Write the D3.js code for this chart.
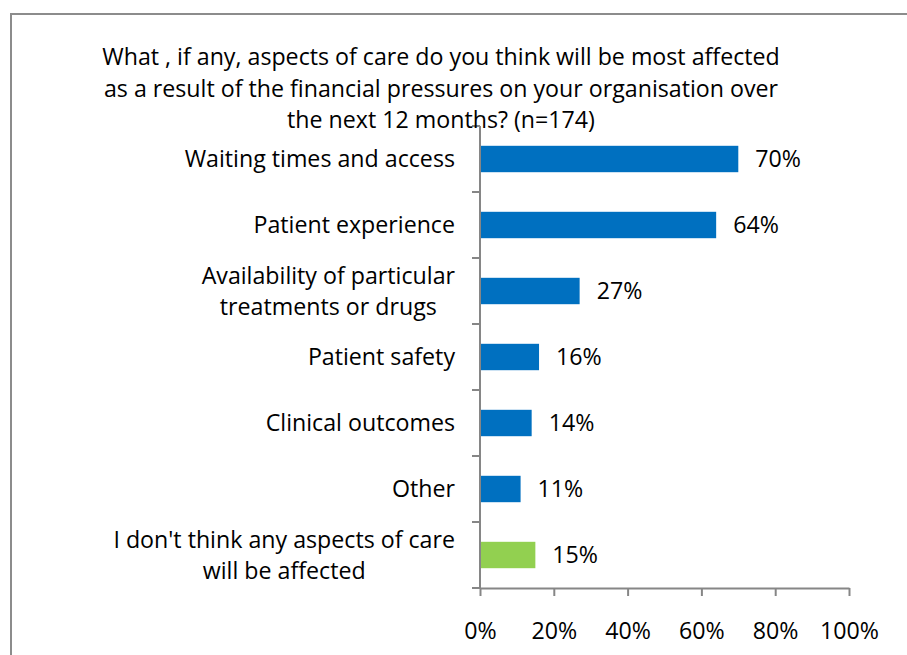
<!DOCTYPE html>
<html>
<head>
<meta charset="utf-8">
<script src="https://cdn.jsdelivr.net/npm/d3@7"></script>
<style>
  html, body { margin: 0; padding: 0; background: #fff; }
  svg { display: block; }
  text { font-family: "Open Sans", "Noto Sans", sans-serif; fill: #000; }
</style>
</head>
<body>
<script>
// Survey answers, in display order (top to bottom)
const categories = [
  "Waiting times and access",
  "Patient experience",
  "Availability of particular\ntreatments or drugs",
  "Patient safety",
  "Clinical outcomes",
  "Other",
  "I don't think any aspects of care\nwill be affected"
];
const values = [70, 64, 27, 16, 14, 11, 15];
const barColors = ["#0070C0", "#0070C0", "#0070C0", "#0070C0", "#0070C0", "#0070C0", "#92D050"];
const xTicks = [0, 20, 40, 60, 80, 100];
const titleLines = [
  "What , if any, aspects of care do you think will be most affected",
  "as a result of the financial pressures on your organisation over",
  "the next 12 months? (n=174)"
];

const W = 907, H = 655;
const axisColor = "#868686";
const fontFamily = "'Open Sans', 'Noto Sans', sans-serif";
const fontSize = 23.2;

const svg = d3.select("body").append("svg")
  .attr("width", W).attr("height", H);

// chart frame
svg.append("rect")
  .attr("x", 11).attr("y", 14)
  .attr("width", 1000).attr("height", 1000)
  .attr("fill", "#fff")
  .attr("stroke", "#8c8c8c").attr("stroke-width", 2);

const plot = { left: 480, right: 849, top: 126, bottom: 588 };

const x = d3.scaleLinear().domain([0, 100]).range([plot.left, plot.right]);
const y = d3.scaleBand().domain(categories)
  .range([plot.top, plot.bottom])
  .paddingInner(0.6).paddingOuter(0.3);

// vertical category axis with ticks between bands
const yAxisG = svg.append("g");
yAxisG.append("line")
  .attr("x1", plot.left).attr("x2", plot.left)
  .attr("y1", plot.top).attr("y2", plot.bottom)
  .attr("stroke", axisColor).attr("stroke-width", 2);
const step = y.step();
const yTickPos = d3.range(categories.length + 1).map(i => plot.top + i * step);
yAxisG.selectAll("line.tick").data(yTickPos).join("line")
  .attr("class", "tick")
  .attr("x1", plot.left - 8).attr("x2", plot.left)
  .attr("y1", d => d).attr("y2", d => d)
  .attr("stroke", axisColor).attr("stroke-width", 2);

// percentage axis
const xAxis = d3.axisBottom(x)
  .tickValues(xTicks)
  .tickSize(8)
  .tickSizeOuter(0)
  .tickFormat(d => d + "%");
const xAxisG = svg.append("g")
  .attr("transform", `translate(0,${plot.bottom})`)
  .call(xAxis);
xAxisG.select(".domain").attr("stroke", axisColor).attr("stroke-width", 2);
xAxisG.selectAll(".tick line").attr("stroke", axisColor).attr("stroke-width", 2);
xAxisG.selectAll(".tick text")
  .attr("y", 0).attr("dy", null)
  .attr("transform", "translate(0,51)")
  .style("font-family", fontFamily)
  .style("font-size", fontSize + "px")
  .attr("fill", "#000");

// bars
svg.append("g").selectAll("rect").data(categories).join("rect")
  .attr("x", x(0) + 1)
  .attr("y", d => y(d))
  .attr("width", (d, i) => x(values[i]) - x(0) - 1)
  .attr("height", y.bandwidth())
  .attr("fill", (d, i) => barColors[i]);

// value labels
svg.append("g").selectAll("text").data(categories).join("text")
  .attr("x", (d, i) => x(values[i]) + 17)
  .attr("y", d => y(d) + y.bandwidth() / 2)
  .attr("dy", "0.36em")
  .style("font-size", fontSize + "px")
  .text((d, i) => values[i] + "%");

// category labels, multi-line ones centred within a right-aligned block
const lineH = 31;
const catG = svg.append("g");
categories.forEach(c => {
  const lines = c.split("\n");
  const cy = y(c) + y.bandwidth() / 2;
  const t = catG.append("text")
    .style("font-size", fontSize + "px");
  lines.forEach((ln, i) => {
    t.append("tspan").text(ln)
      .attr("y", cy + (i - (lines.length - 1) / 2) * lineH)
      .attr("dy", "0.36em");
  });
  const right = 455;
  const tspans = t.selectAll("tspan").nodes();
  const maxW = d3.max(tspans, n => n.getComputedTextLength());
  const centre = right - maxW / 2;
  tspans.forEach(n => {
    d3.select(n).attr("x", centre).attr("text-anchor", "middle");
  });
});

// title
svg.append("g").selectAll("text").data(titleLines).join("text")
  .attr("x", 441)
  .attr("y", (d, i) => 65 + i * 31.5)
  .attr("text-anchor", "middle")
  .style("font-size", fontSize + "px")
  .text(d => d);
</script>
</body>
</html>
